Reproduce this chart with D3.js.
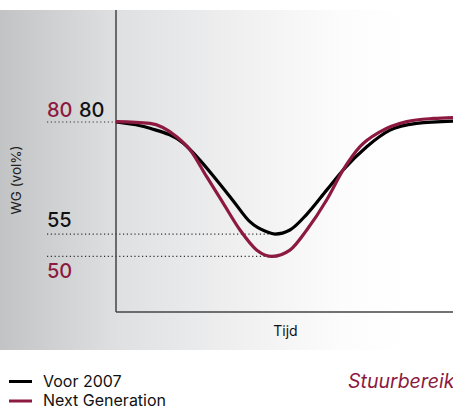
<!DOCTYPE html>
<html>
<head>
<meta charset="utf-8">
<script src="https://cdn.jsdelivr.net/npm/d3@7"></script>
<style>
  html, body { margin: 0; padding: 0; background: #fff; }
  svg { display: block; font-family: Inter, "Noto Sans", sans-serif; }
</style>
</head>
<body>
<svg id="chart" width="453" height="411"></svg>
<script>
// ---- data ----
const timeVoor = [0, 10.1, 19.9, 24.9, 29.9, 34.8, 39.8, 44.7, 47.2, 51.6, 56.6, 62.5, 67.4, 74.4, 81.3, 89.2, 100];
const valuesVoor = [80, 78.6, 75.3, 71.5, 67.0, 62.4, 57.7, 55.5, 55, 55.9, 59.4, 64.8, 69.3, 74.5, 78.2, 79.7, 80.2];
const timeNext = [0, 10.1, 18, 22, 26.9, 31.8, 36.8, 41.8, 46.3, 51.6, 56.6, 62.5, 67.4, 72.4, 78.3, 86.3, 94.2, 100];
const valuesNext = [80.1, 79.7, 76.7, 73.75, 67.8, 61.9, 55.9, 51.4, 50, 51.4, 55.9, 62.6, 69.3, 74.5, 77.8, 80.1, 80.8, 81.0];
const seriesNames = ["Voor 2007", "Next Generation"];
const seriesColors = ["#000000", "#8c1a40"];
const refValues = [80, 55, 50];
const refTimes = [0, 47.2, 46.3];
const yAxisTitle = "WG (vol%)";
const xAxisTitle = "Tijd";
const noteText = "Stuurbereik";

const svg = d3.select("#chart");
const x = d3.scaleLinear().domain([0, 100]).range([116, 453]);
const y = d3.scaleLinear().domain([37.6, 105]).range([312, 10]);

// background panel gradient
const defs = svg.append("defs");
const grad = defs.append("linearGradient").attr("id", "bg").attr("x1", "0").attr("x2", "1").attr("y1", "0").attr("y2", "0");
grad.append("stop").attr("offset", "0").attr("stop-color", "#c2c3c5");
grad.append("stop").attr("offset", "0.26").attr("stop-color", "#dfe0e1");
grad.append("stop").attr("offset", "0.55").attr("stop-color", "#f1f1f2");
grad.append("stop").attr("offset", "0.75").attr("stop-color", "#fcfcfc");
grad.append("stop").attr("offset", "0.9").attr("stop-color", "#ffffff");
svg.append("rect").attr("x", 0).attr("y", 10).attr("width", 453).attr("height", 340).attr("fill", "url(#bg)");

// dotted reference lines
const refs = refValues.map((v, i) => ({ v, t: refTimes[i] }));
svg.append("g").selectAll("line").data(refs).join("line")
  .attr("x1", 47).attr("x2", d => x(d.t))
  .attr("y1", d => y(d.v)).attr("y2", d => y(d.v))
  .attr("stroke", "#333").attr("stroke-width", 1.2).attr("stroke-dasharray", "1.2,2.6");

// axes
svg.append("line").attr("x1", x(0)).attr("x2", x(0)).attr("y1", 10).attr("y2", 312)
  .attr("stroke", "#444").attr("stroke-width", 1.5);
svg.append("line").attr("x1", x(0)).attr("x2", 453).attr("y1", 312).attr("y2", 312)
  .attr("stroke", "#444").attr("stroke-width", 1.5);

// reference value labels
svg.append("text").attr("x", 47).attr("y", y(80) - 5).attr("fill", seriesColors[1])
  .attr("font-size", 20).attr("font-weight", 500).text(refValues[0]);
svg.append("text").attr("x", 79).attr("y", y(80) - 5).attr("fill", "#111")
  .attr("font-size", 20).attr("font-weight", 500).text(refValues[0]);
svg.append("text").attr("x", 47).attr("y", y(55) - 7.5).attr("fill", "#111")
  .attr("font-size", 20).attr("font-weight", 500).text(refValues[1]);
svg.append("text").attr("x", 47).attr("y", y(50) + 22).attr("fill", seriesColors[1])
  .attr("font-size", 20).attr("font-weight", 500).text(refValues[2]);

// lines
const line = d3.line().x(d => x(d[0])).y(d => y(d[1])).curve(d3.curveMonotoneX);
const dataVoor = timeVoor.map((t, i) => [t, valuesVoor[i]]);
const dataNext = timeNext.map((t, i) => [t, valuesNext[i]]);
svg.append("path").datum(dataVoor).attr("d", line).attr("fill", "none")
  .attr("stroke", seriesColors[0]).attr("stroke-width", 3.2);
svg.append("path").datum(dataNext).attr("d", line).attr("fill", "none")
  .attr("stroke", seriesColors[1]).attr("stroke-width", 3.2);

// axis titles
svg.append("text").attr("transform", "translate(21,180) rotate(-90)").attr("text-anchor", "middle")
  .attr("font-size", 13.5).attr("fill", "#222").text(yAxisTitle);
svg.append("text").attr("x", 285.5).attr("y", 336).attr("text-anchor", "middle")
  .attr("font-size", 14).attr("fill", "#111").text(xAxisTitle);

// legend
const leg = svg.append("g");
seriesNames.forEach((name, i) => {
  const yy = 381.5 + i * 19.5;
  leg.append("line").attr("x1", 9).attr("x2", 32).attr("y1", yy).attr("y2", yy)
    .attr("stroke", seriesColors[i]).attr("stroke-width", 3);
  leg.append("text").attr("x", 43).attr("y", yy + 5).attr("font-size", 16).attr("fill", "#111").text(name);
});

// note (runs past the right edge, as in the reference)
svg.append("text").attr("x", 348).attr("y", 388).attr("font-size", 19.5).attr("font-style", "italic")
  .attr("fill", seriesColors[1]).text(noteText);
</script>
</body>
</html>
